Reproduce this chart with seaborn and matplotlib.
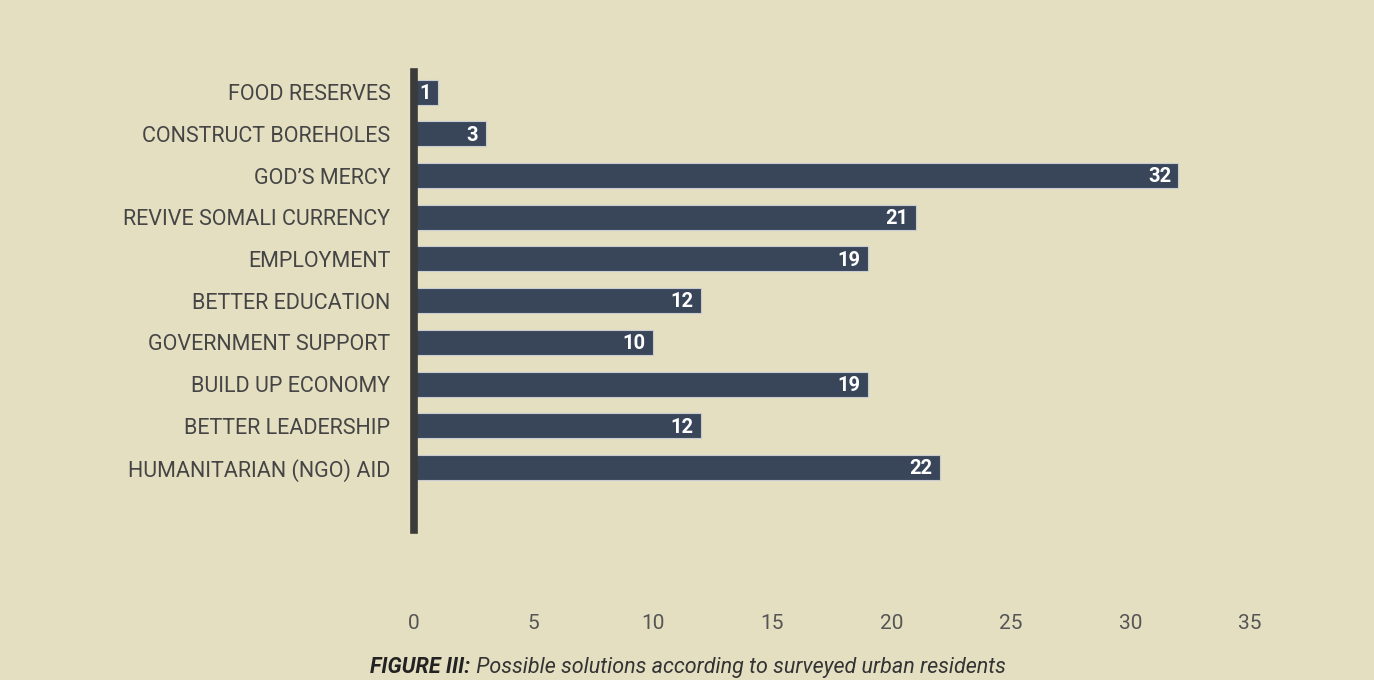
import seaborn as sns
import matplotlib.pyplot as plt
import pandas as pd

categories = ['FOOD RESERVES', 'CONSTRUCT BOREHOLES', "GOD\u2019S MERCY", 'REVIVE SOMALI CURRENCY',
              'EMPLOYMENT', 'BETTER EDUCATION', 'GOVERNMENT SUPPORT', 'BUILD UP ECONOMY',
              'BETTER LEADERSHIP', 'HUMANITARIAN (NGO) AID']
values = [1, 3, 32, 21, 19, 12, 10, 19, 12, 22]
xticks = [0, 5, 10, 15, 20, 25, 30, 35]

df = pd.DataFrame({'Solution': categories, 'Count': values})

bg = '#e4dfc1'
bar_color = '#34455f'

sns.set_style('white')
plt.rcParams['font.family'] = ['Roboto', 'DejaVu Sans']

fig = plt.figure(figsize=(13.74, 6.8), dpi=100, facecolor=bg)
ax = fig.add_axes([0.3013, 0.11, 0.6085, 0.784])
ax.set_facecolor(bg)

sns.barplot(data=df, x='Count', y='Solution', color=bar_color, width=0.6,
            edgecolor='#c9ccd0', linewidth=0.8, ax=ax, zorder=2)

for i, v in enumerate(values):
    ax.text(v - 0.3, i + 0.03, str(v), ha='right', va='center', color='white',
            fontsize=14.5, fontweight='bold', zorder=3)

ax.set_xlim(0, 35)
ax.set_ylim(12.3, -0.48)
ax.set_xticks(xticks)
ax.set_xlabel('')
ax.set_ylabel('')
for s in ['top', 'right', 'bottom']:
    ax.spines[s].set_visible(False)
ax.spines['left'].set_linewidth(5.5)
ax.spines['left'].set_color('#3b3b3b')
ax.spines['left'].set_bounds(-0.48, 10.5)
ax.spines['left'].set_zorder(4)
ax.tick_params(axis='y', length=0, pad=17, labelsize=15.5, labelcolor='#454545')
ax.tick_params(axis='x', length=0, pad=6, labelsize=15, labelcolor='#555555')

# caption: bold italic prefix + italic text, centered as a whole
cap_y = 1 - 667 / 680
t1 = fig.text(0, cap_y, 'FIGURE III:', ha='left', va='center', fontsize=15.5,
              fontweight='bold', fontstyle='italic', color='#222222')
t2 = fig.text(0, cap_y, ' Possible solutions according to surveyed urban residents', ha='left',
              va='center', fontsize=15.5, fontstyle='italic', color='#333333')
r = fig.canvas.get_renderer()
w1 = t1.get_window_extent(r).width
w2 = t2.get_window_extent(r).width
x0 = 688 - (w1 + w2) / 2
t1.set_x(x0 / 1374)
t2.set_x((x0 + w1) / 1374)

fig.savefig('out.png', dpi=100, facecolor=bg)
